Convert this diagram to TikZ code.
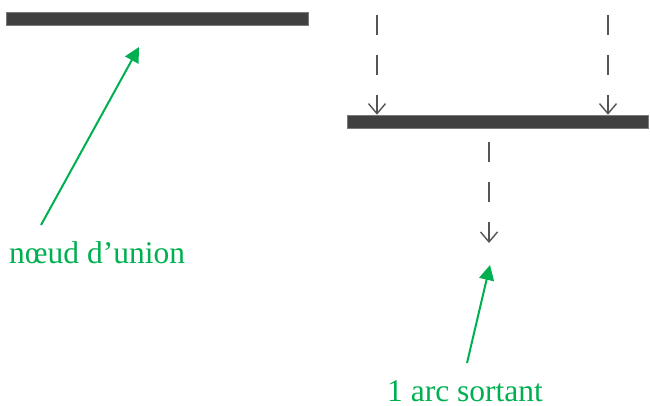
\documentclass[tikz,border=0pt]{standalone}
\usepackage{fontspec}
\setmainfont{Liberation Serif}
\usetikzlibrary{arrows.meta}
\definecolor{barfill}{HTML}{404040}
\definecolor{baredge}{HTML}{7A7A7A}
\definecolor{flowgray}{HTML}{555555}
\definecolor{notegreen}{HTML}{00B050}
\tikzset{
  joinbar/.style={rectangle, fill=barfill, draw=baredge, line width=0.6pt,
    inner sep=0pt, minimum height=13pt},
  flowarc/.style={draw=flowgray, line width=1.6pt,
    dash pattern=on 20pt off 20pt,
    -{Straight Barb[length=10pt,width=17pt,line width=1.4pt]}},
  notelabel/.style={text=notegreen, inner sep=0pt, anchor=base west,
    font=\fontsize{31.5}{38}\selectfont},
  pointer/.style={draw=notegreen, line width=2pt,
    -{Triangle[length=15pt,width=15pt]}}
}
\begin{document}
\begin{tikzpicture}[x=1pt,y=-1pt]
  \useasboundingbox (0,0) rectangle (650,405);

  % union bars
  \node[joinbar, minimum width=302pt] (unionA) at (157,19) {};
  \node[joinbar, minimum width=301pt] (unionB) at (497.5,121.5) {};

  % incoming and outgoing flows of the second bar
  \coordinate (inL) at (377,15);
  \coordinate (inR) at (608,15);
  \coordinate (outS) at (489,142);
  \coordinate (outE) at (489,243);
  \draw[flowarc] (inL) -- (inL |- unionB.north);
  \draw[flowarc] (inR) -- (inR |- unionB.north);
  \draw[flowarc] (outS) -- (outE);

  % labels
  \node[notelabel] (lblUnion) at (9,263) {nœud d’union};
  \node[notelabel] (lblOut) at (387,401) {1 arc sortant};

  % pointers from labels
  \coordinate (tailA) at (41,225);
  \coordinate (headA) at (139,47);
  \coordinate (tailB) at (467,363);
  \coordinate (headB) at (490,265);
  \draw[pointer] (tailA) -- (headA);
  \draw[pointer] (tailB) -- (headB);
\end{tikzpicture}
\end{document}
